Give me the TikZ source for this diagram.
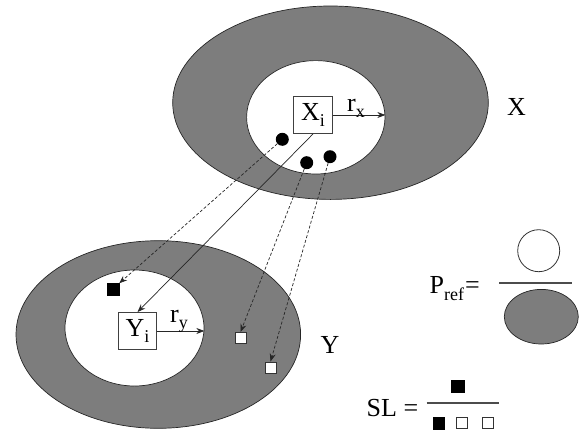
\documentclass[tikz,border=0pt]{standalone}
\usepackage{fontspec}
\setmainfont{Liberation Serif}
\usetikzlibrary{shapes.geometric,arrows.meta}
\newcommand\mysub[1]{\raisebox{-0.26em}{\fontsize{18}{18}\selectfont #1}}
\definecolor{ringgray}{RGB}{125,125,125}
\tikzset{
  ring/.style={ellipse, draw=black!85, line width=0.7pt, fill=ringgray, inner sep=0pt},
  hole/.style={ellipse, draw=black!85, line width=0.7pt, fill=white, inner sep=0pt},
  elembox/.style={draw=black!75, line width=0.9pt, fill=white, inner sep=0pt, font=\fontsize{26}{30}\selectfont},
  dot/.style={circle, fill=black, inner sep=0pt, minimum size=13pt},
  bsq/.style={rectangle, fill=black, draw=black, inner sep=0pt, minimum size=11pt},
  wsq/.style={rectangle, fill=white, draw=black!80, line width=0.9pt, inner sep=0pt, minimum size=11pt},
  lbl/.style={font=\fontsize{26}{30}\selectfont, inner sep=0pt},
  tip/.style={-{Stealth[length=8pt,width=6pt]}},
  conn/.style={tip, line width=0.7pt, black!85},
  dconn/.style={tip, line width=0.7pt, black!85, dash pattern=on 3pt off 2pt},
  fracline/.style={line width=1.8pt, black!70},
}
\begin{document}
\begin{tikzpicture}[x=1pt,y=-1pt]
\useasboundingbox (0,0) rectangle (583,447);
% X region
\node[ring, minimum width=315.6pt, minimum height=193.4pt] (Xout) at (330.5,102.7) {};
\node[hole, minimum width=138.4pt, minimum height=113.4pt] (Xin) at (315.8,117.3) {};
\node[elembox, minimum width=39pt, minimum height=37pt] (Xi) at (313,115) {X\mysub{i}};
\node[lbl] (Xlab) at (516.5,107) {X};
\draw[conn] (Xi.east) -- (Xi.east -| Xin.east) coordinate (rxend);
\node[lbl, anchor=base] (rx) at (356,111) {r\mysub{x}};
\node[dot] (d1) at (282.3,139.3) {};
\node[dot] (d2) at (306.7,162.7) {};
\node[dot] (d3) at (330,156.7) {};
% Y region
\node[ring, minimum width=284.6pt, minimum height=187.6pt] (Yout) at (158.3,334.5) {};
\node[hole, minimum width=139pt, minimum height=116pt] (Yin) at (134.5,328) {};
\node[elembox, minimum width=38pt, minimum height=37pt] (Yi) at (137.5,331) {Y\mysub{i}};
\node[lbl] (Ylab) at (330,345) {Y};
\draw[conn] (Yi.east) -- (Yi.east -| Yin.east);
\node[lbl, anchor=base] (ry) at (179,322) {r\mysub{y}};
\node[bsq, minimum size=12pt] (s0) at (113,289.5) {};
\node[wsq] (s1) at (240.5,338) {};
\node[wsq] (s2) at (270.5,367.5) {};
% connectors
\draw[dconn] (d1) -- (s0.north east);
\draw[conn] (Xi.south) -- (Yi.north);
\draw[dconn] (d2) -- (s1.north);
\draw[dconn] (d3) -- (s2.north);
% P_ref
\node[lbl, anchor=base west] (pref) at (429.5,293.3) {P\mysub{ref}\hspace{1pt}=};
\node[circle, draw=black!80, line width=0.8pt, fill=white, minimum size=42pt, inner sep=0pt] (pc) at (538.7,250.7) {};
\coordinate (pl1) at (499.3,283.3);
\coordinate (pl2) at (571.7,283.3);
\draw[fracline] (pl1) -- (pl2);
\node[ring, minimum width=74pt, minimum height=54.6pt] (pe) at (541.3,316.7) {};
% SL
\node[lbl, anchor=base west] (sl) at (366.5,416.7) {SL =};
\node[bsq, minimum size=12.5pt] (t0) at (457.7,386.3) {};
\coordinate (sl1) at (426.7,403.3);
\coordinate (sl2) at (499.3,403.3);
\draw[fracline] (sl1) -- (sl2);
\node[bsq, minimum size=11.5pt] (b0) at (438.8,423) {};
\node[wsq] (b1) at (462.2,423) {};
\node[wsq] (b2) at (487.5,423) {};
\end{tikzpicture}
\end{document}
